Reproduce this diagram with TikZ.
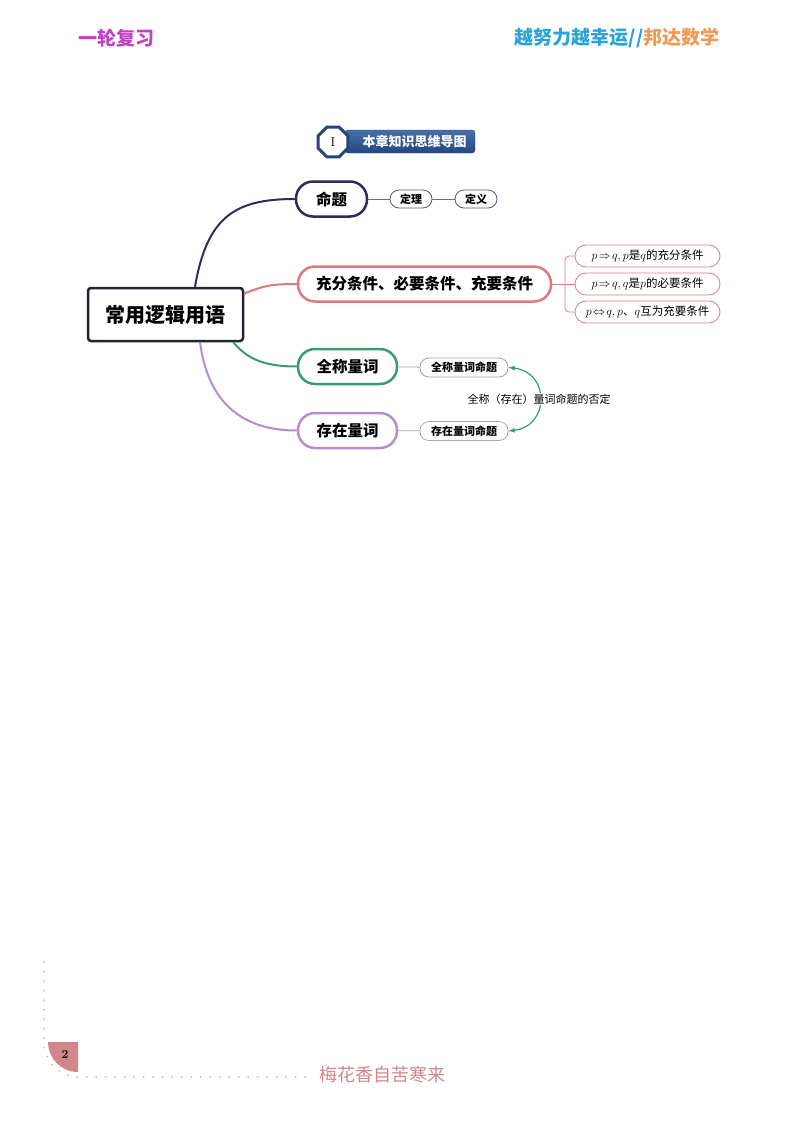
\documentclass[tikz,border=0pt]{standalone}
\usepackage{fontspec}
\usepackage{amsmath,amssymb}
\usetikzlibrary{shapes.geometric,arrows}
\newfontfamily\cjk{Noto Sans CJK SC}
\definecolor{navycolor}{RGB}{43,45,92}
\definecolor{redcolor}{RGB}{222,122,126}
\definecolor{greencolor}{RGB}{58,155,108}
\definecolor{purplecolor}{RGB}{185,140,208}
\definecolor{rootcolor}{RGB}{30,37,51}
\definecolor{badgecolor}{RGB}{38,70,122}
\definecolor{badgelight}{RGB}{70,112,172}
\definecolor{headcolor}{RGB}{195,63,200}
\definecolor{cyancolor}{RGB}{42,164,216}
\definecolor{orangecolor}{RGB}{238,154,85}
\definecolor{footcolor}{RGB}{210,134,136}

\begin{document}
\begin{tikzpicture}[x=1pt,y=-1pt,font=\cjk,
        root/.style={draw=rootcolor,line width=2.5pt,rounded corners=3pt,minimum width=155pt,minimum height=53pt,
          font=\cjk\bfseries\fontsize{20}{20}\selectfont},
        branch/.style={draw=#1,fill=white,line width=2.5pt,rounded corners=17pt,minimum height=35pt,
          font=\cjk\bfseries\fontsize{15.5}{16}\selectfont},
        leaf/.style={draw=#1,fill=white,line width=0.8pt,rounded corners=9pt,minimum height=18pt,inner sep=1pt,
          font=\cjk\bfseries\fontsize{11}{11}\selectfont},
        cond/.style={draw=redcolor,fill=white,line width=0.8pt,rounded corners=11pt,minimum width=145pt,minimum height=22pt,
          inner sep=1pt,font=\cjk\fontsize{11.5}{12}\selectfont},
        link/.style={line width=2pt},
        ]
        \useasboundingbox (0,0) rectangle (794,1122);
        \node at (116,38) [text=headcolor,font=\cjk\bfseries\fontsize{19}{19}\selectfont] (head) {一轮复习};
        \node at (617,38) [font=\cjk\bfseries\fontsize{19}{19}\selectfont] (motto)
          {\textcolor{cyancolor}{越努力越幸运//}\textcolor{orangecolor}{邦达数学}};
        % title badge
        \node at (410,141.5) [rounded corners=3pt,top color=badgelight,bottom color=badgecolor,draw=badgecolor,
          minimum width=130pt,minimum height=23pt] (bar) {};
        \node at (414.5,141.5) [text=white,font=\cjk\bfseries\fontsize{13}{13}\selectfont] (title) {本章知识思维导图};
        \node at (333,142) [regular polygon,regular polygon sides=8,draw=badgecolor,
          line width=3pt,fill=white,minimum size=32pt,inner sep=0pt,font=\rmfamily\fontsize{13}{13}\selectfont] (num) {I};
        % mind map
        \node[root] (root) at (165.5,314.5) {常用逻辑用语};
        \node[branch=navycolor,minimum width=71pt] (prop) at (331.5,199) {命题};
        \node[branch=redcolor,minimum width=253pt] (suff) at (424.5,284) {充分条件、必要条件、充要条件};
        \node[branch=greencolor,minimum width=99pt] (univ) at (347.5,366.5) {全称量词};
        \node[branch=purplecolor,minimum width=99pt] (exist) at (347.5,430.5) {存在量词};
        \draw[link,navycolor] ([xshift=29.5pt]root.north) .. controls +(12,-70) and +(-60,0) .. (prop.west);
        \draw[link,redcolor] ([yshift=21pt]root.east) .. controls +(20,-8) and +(-25,0) .. (suff.west);
        \draw[link,greencolor] ([xshift=-11pt]root.south east) .. controls +(15,18) and +(-30,0) .. (univ.west);
        \draw[link,purplecolor] ([xshift=34.5pt]root.south) .. controls +(8,60) and +(-55,0) .. (exist.west);
        % leaves
        \node[leaf=navycolor!80,minimum width=42pt] (thm) at (411,199) {定理};
        \node[leaf=navycolor!80,minimum width=42pt] (defn) at (476,199) {定义};
        \draw[navycolor!70,line width=0.8pt] (prop) -- (thm) (thm) -- (defn);
        \node[cond] (c1) at (647.5,256) {$p\!\Rightarrow\! q,p$是$q$的充分条件};
        \node[cond] (c2) at (647.5,284) {$p\!\Rightarrow\! q,q$是$p$的必要条件};
        \node[cond] (c3) at (647.5,312) {$p\!\Leftrightarrow\! q,p$、$q$互为充要条件};
        \coordinate (bk) at (565,284);
        \draw[redcolor,line width=0.8pt] (suff.east) -- (bk) (bk) -- (c2.west);
        \draw[redcolor,line width=0.8pt,rounded corners=4pt] (c1.west) -| (bk) |- (c3.west);
        \node[leaf=greencolor!45!gray!70,minimum width=88pt,minimum height=19pt] (uprop) at (464,367.5) {全称量词命题};
        \node[leaf=purplecolor!60!gray!80,minimum width=88pt,minimum height=19pt] (eprop) at (464,431) {存在量词命题};
        \draw[greencolor!45!gray!70,line width=0.8pt] (univ) -- (uprop);
        \draw[purplecolor!60!gray!80,line width=0.8pt] (exist) -- (eprop);
        \draw[greencolor,line width=1.2pt,latex-latex] (uprop.east) .. controls (550,372) and (550,426) .. (eprop.east);
        \node at (539,399) [fill=white,inner sep=1pt,font=\cjk\fontsize{11}{11}\selectfont] (neg) {全称（存在）量词命题的否定};
        % footer
        \fill[footcolor] (78,1042) -- (48,1042) .. controls (48,1058.6) and (61.4,1072) .. (78,1072) -- cycle;
        \draw[gray!50,line width=2pt,line cap=round,dash pattern=on 0pt off 9.5pt]
          (44,962) -- (44,1042) .. controls (44,1062) and (60,1077) .. (80,1077) -- (310,1077);
        \node at (65,1055) [font=\rmfamily\bfseries\fontsize{12}{12}\selectfont] (page) {2};
        \node at (382,1075) [text=footcolor,font=\cjk\fontsize{18}{18}\selectfont] (verse) {梅花香自苦寒来};
      \end{tikzpicture}
\end{document}
